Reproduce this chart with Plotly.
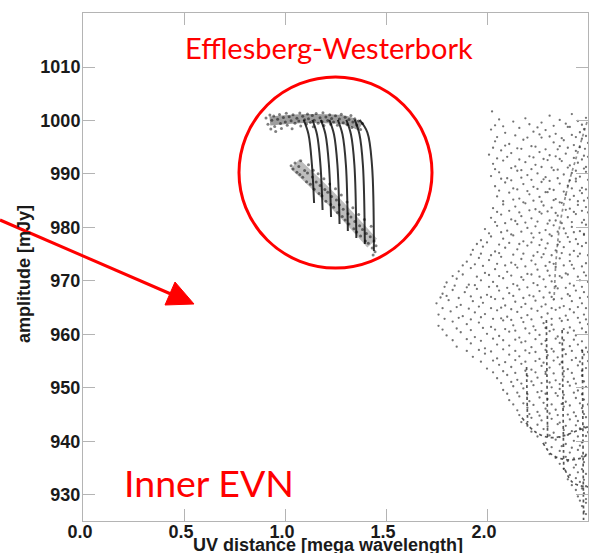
import plotly.graph_objects as go

# ---------------- data ----------------
x_ticks = [0.0, 0.5, 1.0, 1.5, 2.0, 2.5]
y_ticks = [930, 940, 950, 960, 970, 980, 990, 1000, 1010]

# main point cloud: (UV distance [Mlambda], amplitude [mJy])
cloud_points = [
    (2.025,1001.7),(2.31,1000.9),(2.42,1001.2),
    (2.06,1000.2),(2.13,999.8),(2.19,1000.4),(2.27,999.6),(2.36,1000.1),(2.45,999.9),(2.49,1000.5),
    (2.02,998.3),(2.09,997.7),(2.16,998.6),(2.23,997.9),(2.29,998.2),(2.34,997.5),(2.40,998.8),(2.46,997.8),(2.48,998.4),
    (2.04,996.1),(2.11,995.6),(2.18,996.4),(2.22,995.2),(2.27,996.8),(2.33,995.9),(2.38,996.3),(2.43,995.4),(2.47,996.6),(2.50,995.8),
    (2.01,993.6),(2.07,994.4),(2.12,993.9),(2.17,994.7),(2.21,993.3),(2.26,994.1),(2.31,993.5),(2.35,994.6),(2.39,993.8),(2.44,994.3),(2.48,993.4),
    (2.03,991.9),(2.08,992.5),(2.14,991.4),(2.19,992.2),(2.24,991.7),(2.28,992.8),(2.32,991.2),(2.37,992.4),(2.41,991.6),(2.45,992.1),(2.49,991.3),
    (2.02,989.6),(2.06,990.3),(2.10,989.2),(2.15,990.6),(2.20,989.8),(2.25,990.1),(2.29,989.4),(2.33,990.7),(2.38,989.9),(2.42,990.2),(2.46,989.5),(2.49,990.4),
    (2.04,987.7),(2.09,988.4),(2.13,987.3),(2.18,988.1),(2.23,987.6),(2.27,988.5),(2.31,987.2),(2.36,988.2),(2.40,987.8),(2.44,988.6),(2.47,987.4),
    (2.05,985.8),(2.11,986.5),(2.16,985.4),(2.21,986.2),(2.26,985.7),(2.30,986.6),(2.34,985.3),(2.39,986.1),(2.43,985.9),(2.47,986.4),(2.50,985.5),
    (2.03,983.6),(2.08,984.3),(2.14,983.9),(2.19,984.5),(2.24,983.4),(2.28,984.1),(2.32,983.7),(2.37,984.6),(2.41,983.5),(2.45,984.2),(2.49,983.8),
    (2.02,981.8),(2.07,982.4),(2.12,981.5),(2.17,982.1),(2.22,981.7),(2.27,982.6),(2.31,981.3),(2.35,982.2),(2.40,981.9),(2.44,982.5),(2.48,981.4),
    (1.99,979.7),(2.05,980.3),(2.10,979.4),(2.15,980.6),(2.20,979.9),(2.24,980.2),(2.29,979.5),(2.33,980.4),(2.38,979.8),(2.42,980.1),(2.46,979.3),(2.49,980.5),
    (1.97,977.6),(2.02,978.3),(2.08,977.9),(2.13,978.5),(2.18,977.4),(2.23,978.1),(2.27,977.7),(2.32,978.4),(2.36,977.3),(2.40,978.2),(2.44,977.8),(2.48,978.6),
    (1.93,975.8),(1.98,976.4),(2.04,975.5),(2.09,976.2),(2.15,975.9),(2.20,976.6),(2.25,975.4),(2.29,976.1),(2.34,975.7),(2.38,976.3),(2.43,975.6),(2.47,976.5),
    (1.90,973.6),(1.96,974.3),(2.01,973.9),(2.07,974.5),(2.12,973.4),(2.17,974.1),(2.22,973.8),(2.27,974.4),(2.31,973.5),(2.36,974.2),(2.41,973.7),(2.45,974.6),(2.49,973.3),
    (1.86,971.8),(1.92,972.4),(1.99,971.5),(2.04,972.2),(2.10,971.7),(2.15,972.5),(2.20,971.3),(2.25,972.1),(2.30,971.9),(2.34,972.6),(2.39,971.4),(2.43,972.3),(2.48,971.6),
    (1.80,969.7),(1.85,970.4),(1.91,969.3),(1.97,970.1),(2.03,969.8),(2.08,970.5),(2.13,969.4),(2.18,970.2),(2.23,969.6),(2.28,970.3),(2.32,969.9),(2.37,970.6),(2.41,969.5),(2.46,970.1),(2.50,969.8),
    (1.78,967.6),(1.83,968.3),(1.89,967.9),(1.95,968.5),(2.00,967.4),(2.06,968.2),(2.11,967.7),(2.16,968.4),(2.21,967.3),(2.26,968.1),(2.31,967.8),(2.35,968.6),(2.40,967.5),(2.44,968.2),(2.48,967.9),
    (1.75,965.8),(1.81,966.4),(1.87,965.5),(1.93,966.2),(1.98,965.9),(2.04,966.6),(2.09,965.4),(2.14,966.1),(2.19,965.7),(2.24,966.3),(2.29,965.6),(2.33,966.5),(2.38,965.3),(2.42,966.2),(2.47,965.8),
    (1.76,963.7),(1.82,964.3),(1.88,963.4),(1.94,964.1),(1.99,963.8),(2.05,964.5),(2.10,963.3),(2.15,964.2),(2.20,963.6),(2.25,964.4),(2.30,963.9),(2.34,964.6),(2.39,963.5),(2.43,964.1),(2.48,963.7),
    (1.76,961.6),(1.83,962.4),(1.90,961.9),(1.96,962.2),(2.02,961.4),(2.08,962.6),(2.13,961.7),(2.18,962.3),(2.23,961.5),(2.28,962.1),(2.32,961.8),(2.37,962.5),(2.41,961.3),(2.46,962.2),(2.50,961.9),
    (1.80,959.8),(1.87,960.4),(1.94,959.5),(2.00,960.1),(2.06,959.7),(2.11,960.5),(2.16,959.4),(2.21,960.2),(2.26,959.9),(2.31,960.6),(2.35,959.6),(2.40,960.3),(2.44,959.8),(2.49,960.4),
    (1.85,957.7),(1.92,958.3),(1.99,957.4),(2.05,958.1),(2.11,957.9),(2.17,958.5),(2.22,957.6),(2.27,958.2),(2.32,957.3),(2.36,958.4),(2.41,957.8),(2.45,958.1),(2.49,957.5),
    (1.93,955.8),(1.99,956.4),(2.05,955.5),(2.11,956.2),(2.16,955.9),(2.21,956.5),(2.26,955.4),(2.30,956.1),(2.35,955.7),(2.39,956.3),(2.44,955.6),(2.48,956.2),
    (2.00,953.6),(2.06,954.3),(2.12,953.9),(2.17,954.5),(2.22,953.4),(2.27,954.1),(2.31,953.8),(2.36,954.4),(2.40,953.5),(2.45,954.2),(2.49,953.7),
    (2.05,951.8),(2.10,952.4),(2.15,951.5),(2.20,952.2),(2.25,951.9),(2.29,952.6),(2.34,951.4),(2.38,952.1),(2.43,951.7),(2.47,952.3),
    (2.08,949.6),(2.13,950.3),(2.18,949.9),(2.23,950.5),(2.27,949.4),(2.32,950.1),(2.36,949.8),(2.41,950.4),(2.45,949.5),(2.49,950.2),
    (2.11,947.7),(2.16,948.4),(2.21,947.5),(2.26,948.2),(2.30,947.9),(2.35,948.5),(2.39,947.4),(2.44,948.1),(2.48,947.8),
    (2.15,945.8),(2.20,946.3),(2.25,945.5),(2.29,946.1),(2.34,945.9),(2.38,946.5),(2.43,945.4),(2.47,946.2),
    (2.17,943.6),(2.22,944.4),(2.27,943.9),(2.32,944.2),(2.36,943.5),(2.41,944.1),(2.45,943.8),(2.49,944.5),
    (2.22,941.8),(2.28,942.3),(2.33,941.6),(2.38,942.1),(2.42,941.9),(2.46,942.4),(2.50,941.7),
    (2.29,939.7),(2.34,940.3),(2.39,939.5),(2.43,940.1),(2.47,939.8),
    (2.31,937.6),(2.36,938.2),(2.41,937.9),(2.45,938.4),(2.49,937.5),
    (2.36,935.8),(2.40,936.3),(2.44,935.6),(2.48,936.1),
    (2.41,933.7),(2.45,934.2),(2.49,933.9),
    (2.42,931.8),(2.46,932.4),(2.49,931.6),
    (2.45,929.7),(2.48,930.3),
    (2.47,927.9),(2.49,928.5),
    (2.49,926.4),
]

# second, staggered set of cloud points
cloud_points_b = [
    (2.04,999.1),(2.08,998.9),(2.21,999.3),(2.25,998.7),(2.33,999.0),(2.39,999.4),(2.41,998.8),(2.47,999.2),
    (2.05,996.9),(2.14,997.2),(2.20,996.8),(2.26,997.4),(2.31,997.0),(2.37,996.7),(2.42,997.3),(2.44,996.9),(2.49,997.1),
    (2.03,994.9),(2.09,995.3),(2.15,994.8),(2.24,995.1),(2.29,994.6),(2.36,995.2),(2.40,994.9),(2.46,995.0),(2.485,994.7),
    (2.05,992.9),(2.10,993.2),(2.16,992.7),(2.23,993.1),(2.30,992.6),(2.34,993.3),(2.36,992.8),(2.43,993.0),(2.47,992.7),(2.50,993.2),
    (2.04,990.9),(2.12,991.1),(2.17,990.7),(2.22,990.9),(2.27,991.3),(2.35,990.8),(2.40,991.2),(2.44,990.6),(2.48,991.0),
    (2.07,989.1),(2.12,988.8),(2.17,989.3),(2.22,988.9),(2.28,989.0),(2.31,988.7),(2.35,989.2),(2.41,988.8),(2.44,989.1),(2.50,988.9),
    (2.06,986.9),(2.15,987.1),(2.20,986.8),(2.25,987.2),(2.29,986.6),(2.33,987.0),(2.38,986.7),(2.42,987.3),(2.46,986.9),(2.49,987.1),
    (2.08,984.9),(2.13,985.2),(2.18,984.7),(2.23,985.0),(2.27,984.8),(2.33,985.1),(2.36,984.7),(2.41,985.2),(2.45,984.9),(2.48,985.0),
    (2.05,982.9),(2.11,983.1),(2.16,982.8),(2.21,983.2),(2.26,982.9),(2.30,983.0),(2.34,982.7),(2.39,983.3),(2.43,982.9),(2.47,983.1),(2.50,982.8),
    (2.04,981.0),(2.09,980.8),(2.14,981.2),(2.19,980.9),(2.25,981.1),(2.30,980.7),(2.34,981.3),(2.37,980.8),(2.42,981.0),(2.47,980.9),
    (2.01,978.9),(2.07,979.1),(2.12,978.7),(2.17,979.2),(2.22,978.9),(2.26,979.0),(2.31,978.7),(2.35,979.2),(2.39,978.9),(2.43,979.1),(2.48,978.8),
    (1.95,976.9),(2.00,977.2),(2.06,976.8),(2.11,977.1),(2.16,976.9),(2.22,977.2),(2.26,976.7),(2.30,977.0),(2.35,976.8),(2.41,977.3),(2.45,976.9),(2.49,977.1),
    (1.92,974.9),(1.97,975.1),(2.02,974.8),(2.06,975.2),(2.13,974.9),(2.18,975.1),(2.23,974.7),(2.28,975.0),(2.32,974.8),(2.37,975.2),(2.41,974.9),(2.46,975.1),(2.50,974.8),
    (1.88,972.9),(1.94,973.1),(1.98,972.8),(2.05,973.2),(2.09,972.9),(2.14,973.0),(2.19,972.7),(2.24,973.1),(2.29,972.8),(2.33,973.2),(2.38,972.9),(2.42,973.0),(2.47,972.7),
    (1.83,970.9),(1.88,971.2),(1.95,970.8),(2.01,971.1),(2.06,970.9),(2.12,971.0),(2.17,970.7),(2.22,971.2),(2.26,970.8),(2.31,971.0),(2.36,970.9),(2.40,971.2),(2.45,970.8),(2.49,971.0),
    (1.79,968.9),(1.84,969.1),(1.90,968.8),(1.94,969.2),(2.01,968.9),(2.05,969.0),(2.10,968.7),(2.15,969.1),(2.20,968.8),(2.25,969.2),(2.29,968.9),(2.34,969.0),(2.39,968.7),(2.43,969.1),(2.47,968.9),
    (1.77,966.9),(1.80,967.2),(1.86,966.8),(1.92,967.1),(1.97,966.9),(2.02,967.0),(2.08,966.7),(2.13,967.2),(2.18,966.8),(2.23,967.1),(2.28,966.9),(2.32,967.0),(2.37,966.7),(2.41,967.2),(2.46,966.8),(2.50,967.0),
    (1.78,964.9),(1.85,965.1),(1.91,964.8),(1.96,965.2),(2.02,964.9),(2.07,965.0),(2.12,964.7),(2.17,965.1),(2.22,964.8),(2.27,965.2),(2.32,964.9),(2.36,965.0),(2.41,964.7),(2.45,965.1),(2.49,964.9),
    (1.79,962.9),(1.86,963.1),(1.92,962.8),(1.97,963.2),(2.03,962.9),(2.07,963.0),(2.12,962.7),(2.17,963.1),(2.22,962.8),(2.27,963.2),(2.32,962.9),(2.36,963.0),(2.40,962.7),(2.45,963.1),(2.49,962.8),
    (1.78,960.9),(1.85,961.1),(1.92,960.8),(1.98,961.2),(2.04,960.9),(2.09,961.0),(2.14,960.7),(2.19,961.1),(2.24,960.8),(2.29,961.2),(2.33,960.9),(2.38,961.0),(2.43,960.7),(2.47,961.1),
    (1.83,958.9),(1.90,959.1),(1.97,958.8),(2.03,959.2),(2.08,958.9),(2.14,959.0),(2.19,958.7),(2.24,959.1),(2.29,958.8),(2.34,959.2),(2.38,958.9),(2.43,959.0),(2.47,958.7),
    (1.90,956.9),(1.96,957.1),(2.02,956.8),(2.08,957.2),(2.14,956.9),(2.19,957.0),(2.24,956.7),(2.29,957.1),(2.33,956.8),(2.38,957.2),(2.42,956.9),(2.47,957.0),(2.50,956.7),
    (1.97,954.9),(2.03,955.1),(2.09,954.8),(2.14,955.2),(2.19,954.9),(2.24,955.0),(2.28,954.7),(2.33,955.1),(2.37,954.8),(2.42,955.2),(2.46,954.9),(2.50,955.0),
    (2.03,952.9),(2.08,953.1),(2.14,952.8),(2.19,953.2),(2.24,952.9),(2.29,953.0),(2.33,952.7),(2.38,953.1),(2.42,952.8),(2.47,953.2),
    (2.07,950.9),(2.12,951.1),(2.17,950.8),(2.22,951.2),(2.27,950.9),(2.31,951.0),(2.36,950.7),(2.40,951.1),(2.44,950.8),(2.48,951.2),
    (2.10,948.9),(2.15,949.1),(2.20,948.8),(2.25,949.2),(2.29,948.9),(2.34,949.0),(2.38,948.7),(2.43,949.1),(2.47,948.8),
    (2.13,946.9),(2.18,947.1),(2.23,946.8),(2.28,947.2),(2.32,946.9),(2.37,947.0),(2.41,946.7),(2.46,947.1),(2.50,946.9),
    (2.16,944.9),(2.21,945.1),(2.26,944.8),(2.31,945.2),(2.35,944.9),(2.40,945.0),(2.44,944.7),(2.48,945.1),
    (2.20,942.9),(2.25,943.1),(2.30,942.8),(2.35,943.2),(2.39,942.9),(2.44,943.0),(2.48,942.7),
    (2.25,940.9),(2.31,941.1),(2.36,940.8),(2.40,941.2),(2.45,940.9),(2.49,941.0),
    (2.32,938.9),(2.37,939.1),(2.42,938.8),(2.46,939.2),
    (2.34,936.9),(2.39,937.1),(2.43,936.8),(2.47,937.2),
    (2.38,934.9),(2.43,935.1),(2.47,934.8),
    (2.40,932.9),(2.44,933.1),(2.48,932.8),
    (2.44,930.9),(2.47,931.2),
    (2.46,928.9),(2.49,929.2),
    (2.48,926.9),
]

# denser tracks visible inside the cloud
track_uv = [
    [2.495, 2.446, 2.396, 2.361, 2.342, 2.332],
    [2.196, 2.198, 2.201],
    [2.294, 2.297, 2.300],
    [2.372, 2.376, 2.380],
    [2.472, 2.475, 2.478],
    [2.173, 2.238, 2.312, 2.386, 2.460, 2.50],
    [2.277, 2.322, 2.386, 2.450, 2.50],
    [2.386, 2.421, 2.460, 2.50],
]
track_amp = [
    [999.7, 993.6, 987.0, 980.5, 973.9, 966.5],
    [953.9, 948.7, 943.5],
    [962.7, 951.7, 940.8],
    [960.8, 947.7, 934.7],
    [957.1, 941.2, 925.3],
    [944.4, 941.8, 940.7, 941.1, 942.2, 942.7],
    [939.7, 937.5, 936.6, 936.7, 937.5],
    [934.7, 932.4, 931.7, 931.5],
]

# zoomed inset (Effelsberg-Westerbork baseline), in inset-relative units (0-100)
inset_curve_u = [
    [33.5, 36.0, 37.8, 38.9], [38.0, 40.4, 42.2, 43.3], [42.4, 44.8, 46.6, 47.7], [46.8, 49.2, 51.0, 52.1],
    [51.2, 53.6, 55.4, 56.4], [55.6, 58.0, 59.8, 60.8], [60.0, 62.4, 64.2, 65.2], [62.5, 66.5, 68.9, 69.9],
]
inset_curve_v = [
    [77.5, 70.0, 53.9, 34.0], [77.5, 70.0, 53.9, 30.4], [77.5, 70.0, 53.9, 26.7], [77.5, 70.0, 53.9, 23.0],
    [77.5, 70.0, 53.9, 19.4], [77.5, 70.0, 53.9, 15.7], [77.5, 70.0, 53.9, 12.6], [77.5, 71.0, 53.9, 8.9],
]
inset_band_u = [16, 35, 55, 63]
inset_band_v = [77.0, 78.3, 77.4, 74.0]
inset_low_band_u = [29, 48, 69]
inset_low_band_v = [54.5, 36.0, 13.0]
inset_top_points = [
    (14,78.5),(15,75.2),(16,80.1),(16.5,72.8),(17,77.3),(18,79.6),(18.5,74.1),(19,71.5),(20,77.9),(21,80.4),
    (21.5,75.6),(22,73.0),(23,78.8),(24,76.4),(24.5,81.0),(25,74.7),(26,79.2),(27,77.1),(27.5,72.9),(28,80.3),
    (29,75.8),(30,78.4),(31,76.9),(31.5,81.2),(32,74.3),(33,79.5),(34,77.6),(35,75.4),(35.5,80.6),(36,78.1),
    (37,76.2),(38,79.8),(38.5,73.9),(39,77.4),(40,80.9),(41,75.8),(42,78.6),(43,76.7),(43.5,81.3),(44,74.6),
    (45,79.1),(46,77.2),(47,80.2),(47.5,75.3),(48,78.3),(49,76.5),(50,79.7),(51,74.8),(52,78.0),(53,80.5),
    (54,76.1),(55,78.9),(56,75.0),(57,77.8),(58,79.9),(58.5,73.6),(59,76.4),(60,78.2),(61,74.9),(62,77.0),
    (63,72.5),(64,75.6),
]
inset_low_points = [
    (27,53.5),(28,51.8),(29,55.0),(30,50.1),(31,53.2),(31.5,48.9),(32,56.1),(33,47.5),(34,51.0),(35,45.2),
    (35.5,49.8),(36,54.0),(37,43.9),(38,47.6),(38.5,51.2),(39,41.2),(40,45.0),(41,49.3),(41.5,39.0),(42,43.2),
    (43,37.8),(44,46.7),(44.5,41.1),(45,35.0),(46,39.6),(47,44.0),(47.5,33.2),(48,37.4),(49,31.8),(50,41.5),
    (50.5,35.6),(51,29.0),(52,33.1),(53,38.2),(53.5,26.9),(54,30.8),(55,25.1),(56,34.6),(56.5,28.4),(57,23.0),
    (58,26.7),(59,31.5),(59.5,20.6),(60,24.3),(61,18.9),(62,28.0),(62.5,22.1),(63,16.8),(64,20.2),(65,25.4),
    (65.5,14.1),(66,18.0),(67,12.9),(68,16.3),(68.5,21.8),(69,10.5),(70,14.2),(70.5,8.5),(71,11.7),(69.5,6.8),
]

# ---------------- figure ----------------
W, H = 591, 553
ML, MR, MT, MB = 83, 3, 13, 32
PW, PH = W - ML - MR, H - MT - MB


def px(x):
    return (x - ML) / PW


def py(y):
    return (H - MB - y) / PH


RED = "#ff0000"
fig = go.Figure()

all_cloud = cloud_points + cloud_points_b
fig.add_trace(go.Scatter(
    x=[p[0] for p in all_cloud], y=[p[1] for p in all_cloud],
    mode="markers", marker=dict(size=2.3, color="rgba(0,0,0,0.55)", line=dict(width=0)),
    showlegend=False, hoverinfo="skip"))

for i, (tu, ta) in enumerate(zip(track_uv, track_amp)):
    fig.add_trace(go.Scatter(
        x=tu, y=ta, mode="lines",
        line=dict(color="rgba(30,30,30,0.5)" if i == 0 else "rgba(30,30,30,0.75)",
                  width=1.7, dash="dot", shape="spline"),
        showlegend=False, hoverinfo="skip"))

# inset traces
fig.add_trace(go.Scatter(
    x=inset_band_u, y=inset_band_v, mode="lines", xaxis="x2", yaxis="y2",
    line=dict(color="rgba(0,0,0,0.38)", width=9, shape="spline"),
    showlegend=False, hoverinfo="skip"))
fig.add_trace(go.Scatter(
    x=inset_low_band_u, y=inset_low_band_v, mode="lines", xaxis="x2", yaxis="y2",
    line=dict(color="rgba(0,0,0,0.26)", width=13, shape="spline"),
    showlegend=False, hoverinfo="skip"))
for cu, cv in zip(inset_curve_u, inset_curve_v):
    fig.add_trace(go.Scatter(
        x=cu, y=cv, mode="lines", xaxis="x2", yaxis="y2",
        line=dict(color="rgba(15,15,15,0.85)", width=2.0, shape="spline"),
        showlegend=False, hoverinfo="skip"))
fig.add_trace(go.Scatter(
    x=[p[0] for p in inset_top_points + inset_low_points],
    y=[p[1] for p in inset_top_points + inset_low_points],
    mode="markers", xaxis="x2", yaxis="y2",
    marker=dict(size=3, color="rgba(0,0,0,0.5)", line=dict(width=0)),
    showlegend=False, hoverinfo="skip"))

axis_common = dict(
    showgrid=False, zeroline=False, showline=True, linecolor="#b4b4b4", linewidth=1,
    mirror="ticks", ticks="inside", ticklen=12, tickcolor="#b4b4b4", tickwidth=1,
    tickfont=dict(family="Liberation Sans, Arial, sans-serif", size=18, color="#1a1a1a", weight="bold"),
)

cx0, cx1, cy0, cy1 = 239, 432, 77, 268

fig.update_layout(
    width=W, height=H, margin=dict(l=ML, r=MR, t=MT, b=MB),
    paper_bgcolor="white", plot_bgcolor="white",
    xaxis=dict(range=[0, 2.5], tickvals=x_ticks, tickformat=".1f", ticklabelshift=-3,
               ticklabelstandoff=-6, **axis_common),
    yaxis=dict(range=[925.1, 1020.1], tickvals=y_ticks, ticklabelstandoff=-2, **axis_common),
    xaxis2=dict(domain=[px(cx0), px(cx1)], range=[0, 100], visible=False, anchor="y2"),
    yaxis2=dict(domain=[py(cy1), py(cy0)], range=[0, 100], visible=False, anchor="x2"),
)

# titles
lab_font = dict(family="Liberation Sans, Arial, sans-serif", size=18, color="#1a1a1a", weight="bold")
fig.add_annotation(text="UV distance [mega wavelength]", xref="paper", yref="paper",
                   x=px(328), y=py(545), xanchor="center", yanchor="middle",
                   showarrow=False, font=lab_font)
fig.add_annotation(text="amplitude [mJy]", xref="paper", yref="paper",
                   x=px(24), y=py(274), xanchor="center", yanchor="middle", textangle=-90,
                   showarrow=False, font=lab_font)

# red overlay texts
fig.add_annotation(text="Efflesberg-Westerbork", xref="paper", yref="paper",
                   x=px(329), y=py(48), xanchor="center", yanchor="middle",
                   showarrow=False, font=dict(family="Lato, sans-serif", size=29, color=RED))
fig.add_annotation(text="Inner EVN", xref="paper", yref="paper",
                   x=px(122), y=py(482), xanchor="left", yanchor="middle",
                   showarrow=False, font=dict(family="Lato, sans-serif", size=37.5, color=RED))

# circle + arrow
fig.add_shape(type="circle", xref="paper", yref="paper",
              x0=px(cx0), x1=px(cx1), y0=py(cy1), y1=py(cy0),
              line=dict(color=RED, width=3))
fig.add_shape(type="line", xref="paper", yref="paper",
              x0=px(0), y0=py(220), x1=px(172), y1=py(294.5),
              line=dict(color=RED, width=3))
tri = [(175, 282), (165, 305), (194, 304)]
path = "M {:.5f},{:.5f} L {:.5f},{:.5f} L {:.5f},{:.5f} Z".format(
    px(tri[0][0]), py(tri[0][1]), px(tri[1][0]), py(tri[1][1]), px(tri[2][0]), py(tri[2][1]))
fig.add_shape(type="path", xref="paper", yref="paper", path=path,
              fillcolor=RED, line=dict(color=RED, width=1))

fig.write_html("out.html")
